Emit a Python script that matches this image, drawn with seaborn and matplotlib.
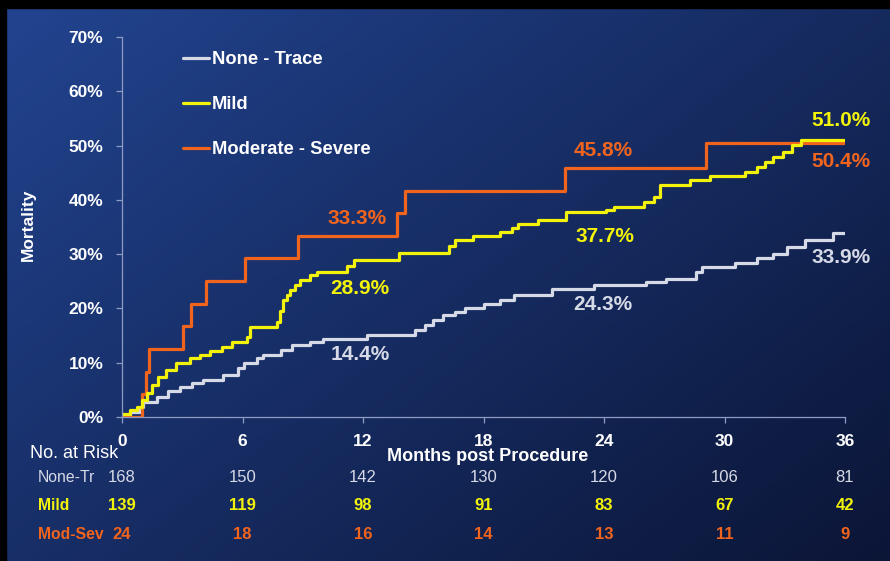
"""
Mortality by regurgitation grade - Kaplan-Meier style step curves with risk table
"""
import numpy as np
import pandas as pd
import matplotlib.pyplot as plt
import seaborn as sns
from matplotlib.lines import Line2D
from matplotlib.patches import Rectangle

sns.set_style("ticks")
plt.rcParams['font.family'] = ['Liberation Sans', 'DejaVu Sans']

# ---- data ----
groups = ['None - Trace', 'Mild', 'Moderate - Severe']

none_months = [0, 0.4, 0.9, 1.06, 1.73, 2.3, 2.9, 3.47, 4.05, 5.05, 5.8, 6.05, 6.7, 7.04,
               7.9, 8.45, 9.36, 10.0, 12.2, 14.6, 15.1, 15.5, 16.0, 16.6, 17.1, 18.0, 18.8,
               19.5, 21.4, 23.5, 26.1, 27.1, 28.6, 28.9, 30.5, 31.6, 32.4, 33.1, 34.0, 35.4, 36]
none_mort = [0.4, 1.0, 1.9, 2.8, 3.7, 4.7, 5.6, 6.2, 6.8, 7.7, 9.0, 9.9, 10.8, 11.4,
             12.3, 13.3, 13.9, 14.4, 15.1, 16.1, 16.9, 17.9, 18.8, 19.4, 20.0, 20.8, 21.5,
             22.5, 23.6, 24.3, 24.9, 25.5, 26.8, 27.7, 28.3, 29.2, 30.1, 31.4, 32.6, 33.9, 33.9]

mild_months = [0, 0.4, 0.73, 0.98, 1.23, 1.48, 1.81, 2.2, 2.7, 3.4, 3.9, 4.4, 4.96, 5.5,
               6.2, 6.37, 7.7, 7.85, 8.0, 8.2, 8.37, 8.6, 8.86, 9.36, 9.7, 11.2, 11.55,
               13.8, 16.3, 16.6, 17.5, 18.8, 19.4, 19.7, 20.7, 22.1, 24.1, 24.5, 26.0, 26.5,
               26.8, 28.3, 29.3, 31.0, 31.6, 32.0, 32.4, 32.9, 33.35, 33.8, 36]
mild_mort = [0.5, 1.2, 1.9, 3.1, 4.4, 5.9, 7.4, 8.7, 10.0, 10.8, 11.4, 12.2, 12.9, 13.9,
             14.8, 16.6, 17.5, 19.5, 21.5, 22.5, 23.4, 24.3, 25.2, 26.2, 26.8, 27.9, 28.9,
             30.2, 31.5, 32.6, 33.3, 34.1, 34.9, 35.5, 36.3, 37.7, 38.1, 38.7, 39.6, 40.6,
             42.7, 43.6, 44.4, 45.2, 46.1, 47.0, 47.9, 48.9, 50.1, 51.0, 51.0]

modsev_months = [0, 0.98, 1.2, 1.36, 3.05, 3.44, 4.2, 6.1, 8.78, 13.7, 14.1, 22.06, 29.1, 36]
modsev_mort = [0, 4.2, 8.3, 12.5, 16.7, 20.8, 25.0, 29.2, 33.3, 37.5, 41.7, 45.8, 50.4, 50.4]

# landmark labels at 12 / 24 / 36 months
label_months = [12, 24, 36]
none_labels = [14.4, 24.3, 33.9]
mild_labels = [28.9, 37.7, 51.0]
modsev_labels = [33.3, 45.8, 50.4]

# number at risk
risk_months = [0, 6, 12, 18, 24, 30, 36]
risk_rows = ['None-Tr', 'Mild', 'Mod-Sev']
risk_none = [168, 150, 142, 130, 120, 106, 81]
risk_mild = [139, 119, 98, 91, 83, 67, 42]
risk_modsev = [24, 18, 16, 14, 13, 11, 9]

# ---- styling ----
c_none = '#d6d9e6'
c_mild = '#f2f20a'
c_mod = '#f0641e'
axis_col = '#8e9cc4'

df = pd.concat([
    pd.DataFrame({'month': none_months, 'mortality': none_mort, 'group': groups[0]}),
    pd.DataFrame({'month': modsev_months, 'mortality': modsev_mort, 'group': groups[2]}),
    pd.DataFrame({'month': mild_months, 'mortality': mild_mort, 'group': groups[1]}),
], ignore_index=True)
palette = {groups[0]: c_none, groups[1]: c_mild, groups[2]: c_mod}

fig = plt.figure(figsize=(8.9, 5.61), dpi=100)

# gradient background
bg = fig.add_axes([0, 0, 1, 1], zorder=-10)
gx, gy = np.meshgrid(np.linspace(0, 1, 300), np.linspace(0, 1, 200))
t = np.clip((gx * 0.55 + gy * 0.45), 0, 1)[..., None]
top = np.array([0x22, 0x44, 0x90]) / 255
bot = np.array([0x0b, 0x15, 0x36]) / 255
bg.imshow(top * (1 - t) + bot * t, aspect='auto', extent=[0, 1, 0, 1], origin='upper')
bg.set_xlim(0, 1)
bg.set_ylim(0, 1)
bg.set_axis_off()
# black frame strips (top / left)
fig.patches.append(Rectangle((0, 1 - 8 / 561), 1, 8 / 561, transform=fig.transFigure,
                             color='black', zorder=-5))
fig.patches.append(Rectangle((0, 0), 6 / 890, 1, transform=fig.transFigure,
                             color='black', zorder=-5))

ax = fig.add_axes([122 / 890, 144 / 561, 723 / 890, 380 / 561])
ax.patch.set_alpha(0)

sns.lineplot(data=df, x='month', y='mortality', hue='group', palette=palette,
             hue_order=[groups[0], groups[2], groups[1]], estimator=None,
             drawstyle='steps-post', linewidth=2.3, legend=False, ax=ax)

ax.set_xlim(0, 36)
ax.set_ylim(0, 70)
ax.set_xticks(risk_months)
ax.set_yticks(range(0, 71, 10))
ax.set_yticklabels([f'{v}%' for v in range(0, 71, 10)])
ax.set_xlabel('')
ax.set_ylabel('')
sns.despine(ax=ax)
for s in ['left', 'bottom']:
    ax.spines[s].set_color(axis_col)
    ax.spines[s].set_linewidth(0.9)
ax.tick_params(colors=axis_col, length=4, width=0.9)
ax.tick_params(axis='y', pad=9.5, labelcolor='white', labelsize=12.5)
ax.tick_params(axis='x', pad=8, labelcolor='white', labelsize=12.5)
for lab in ax.get_xticklabels() + ax.get_yticklabels():
    lab.set_fontweight('bold')

fig.text(28 / 890, 1 - 225 / 561, 'Mortality', rotation=90, color='white',
         fontsize=12.5, fontweight='bold', ha='center', va='center')

# legend
handles = [Line2D([], [], color=palette[g], lw=2.3) for g in groups]
ax.legend(handles, groups, loc='upper left', bbox_to_anchor=(0.084, 0.962), frameon=False,
          handlelength=1.45, handletextpad=0.12, labelspacing=1.52, borderpad=0,
          borderaxespad=0, labelcolor='white', prop={'size': 13.2, 'weight': 'bold'})

# landmark annotations (offset in pixels from the curve point)
ann_specs = [
    (none_labels, c_none, [(-3, -16), (-1, -19), (-4, -25)]),
    (mild_labels, c_mild, [(-3, -28), (1, -24), (-4, 20)]),
    (modsev_labels, c_mod, [(-6, 18), (-1, 18), (-4, -18)]),
]
for vals, col, offs in ann_specs:
    for m, v, (dx, dy) in zip(label_months, vals, offs):
        ax.annotate(f'{v:.1f}%', xy=(m, v), xytext=(dx, dy), textcoords='offset pixels',
                    ha='center', va='center', color=col, fontsize=15, fontweight='bold')

# x label and risk table
xt = ax.get_xaxis_transform()
ax.text(18.2, -0.105, 'Months post Procedure', transform=xt, ha='center', va='center',
        color='white', fontsize=13, fontweight='bold')
ax.text(-4.58, -0.095, 'No. at Risk', transform=xt, ha='left', va='center',
        color='white', fontsize=13)

row_y = [-0.1605, -0.234, -0.3105]
row_style = [(c_none, 'normal'), (c_mild, 'bold'), (c_mod, 'bold')]
for name, counts, y, (col, w) in zip(risk_rows, [risk_none, risk_mild, risk_modsev],
                                       row_y, row_style):
    ax.text(-4.2, y, name, transform=xt, ha='left', va='center', color=col,
            fontsize=11.3, fontweight=w)
    for m, n in zip(risk_months, counts):
        ax.text(m, y, str(n), transform=xt, ha='center', va='center', color=col,
                fontsize=12, fontweight=w)

plt.savefig('out.png', dpi=100)
plt.close()
